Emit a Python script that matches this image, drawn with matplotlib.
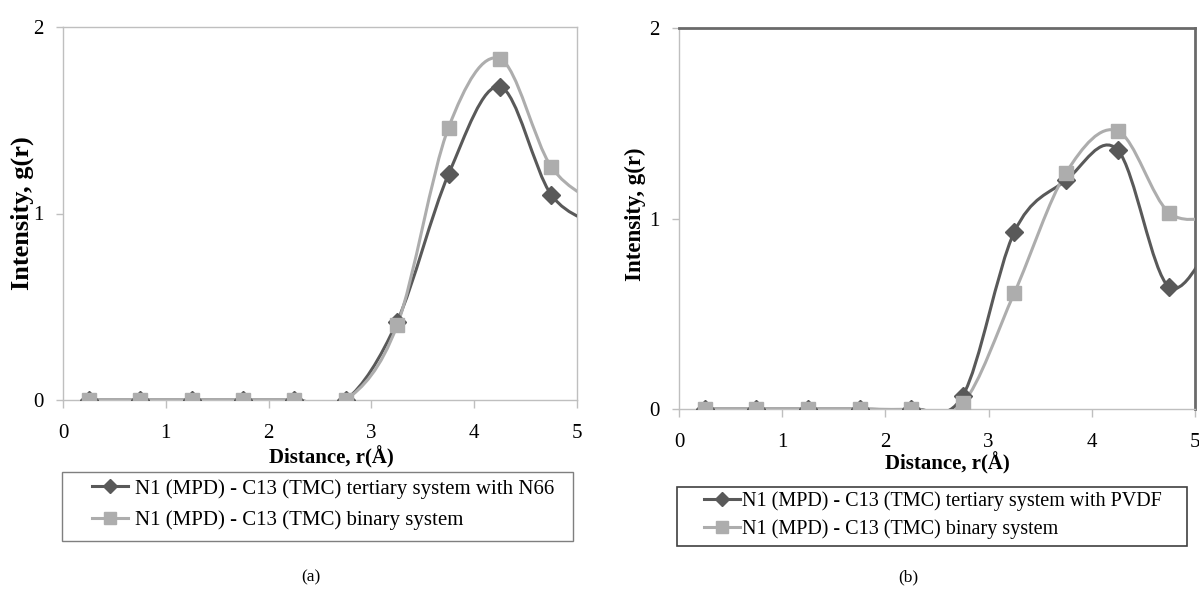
import numpy as np
import matplotlib
matplotlib.use('Agg')
import matplotlib.pyplot as plt
from matplotlib.path import Path
from matplotlib.patches import PathPatch, Rectangle
from matplotlib.lines import Line2D

plt.rcParams['font.family'] = ['Liberation Serif', 'DejaVu Serif']

# distance r (A); last point lies just past the axis edge, as in the source chart
r = [0.25, 0.75, 1.25, 1.75, 2.25, 2.75, 3.25, 3.75, 4.25, 4.75, 5.25]

# (a) N66 tertiary vs binary
g_n66 = [0, 0, 0, 0, 0, 0, 0.42, 1.21, 1.68, 1.10, 0.93]
g_bin_a = [0, 0, 0, 0, 0, 0, 0.40, 1.46, 1.83, 1.25, 1.04]

# (b) PVDF tertiary vs binary
g_pvdf = [0, 0, 0, 0, 0, 0.07, 0.93, 1.20, 1.36, 0.64, 0.97]
g_bin_b = [0, 0, 0, 0, 0, 0.03, 0.61, 1.24, 1.46, 1.03, 1.02]

lab_n66 = 'N1 (MPD) - C13 (TMC) tertiary system with N66'
lab_pvdf = 'N1 (MPD) - C13 (TMC) tertiary system with PVDF'
lab_bin = 'N1 (MPD) - C13 (TMC) binary system'

DARK = '#595959'
LIGHT = '#ADADAD'
AXC = '#BFBFBF'


def smooth_path(xs, ys):
    # excel-like smoothed line: cubic bezier through the points
    pts = np.column_stack([xs, ys]).astype(float)
    n = len(pts)
    verts = [pts[0]]
    codes = [Path.MOVETO]
    for i in range(n - 1):
        p0 = pts[i - 1] if i > 0 else pts[i]
        p1, p2 = pts[i], pts[i + 1]
        p3 = pts[i + 2] if i + 2 < n else pts[i + 1]
        verts += [p1 + (p2 - p0) / 6, p2 - (p3 - p1) / 6, p2]
        codes += [Path.CURVE4] * 3
    return Path(verts, codes)


def draw_series(ax, ys, color, marker, ms):
    ax.add_patch(PathPatch(smooth_path(r, ys), facecolor='none',
                           edgecolor=color, lw=2.2, zorder=3))
    ax.plot(r, ys, ls='none', marker=marker, ms=ms, color=color, zorder=4)


def style_axes(ax, dark_frame):
    ax.set_xlim(0, 5)
    ax.set_ylim(0, 2)
    ax.set_xticks(range(6))
    ax.set_yticks([0, 1, 2])
    for s in ax.spines.values():
        s.set_color(AXC)
        s.set_linewidth(1)
    if dark_frame:
        for s in ('top', 'right'):
            ax.spines[s].set_color('#6a6a6a')
            ax.spines[s].set_linewidth(2)
    ax.tick_params(axis='x', direction='out', length=6, width=1, color=AXC,
                   pad=11, labelsize=15)
    ax.tick_params(axis='y', direction='out', length=5, width=1, color=AXC,
                   pad=9, labelsize=15)


fig = plt.figure(figsize=(11.99, 5.89), dpi=100)
W, H = 1199, 589

ax1 = fig.add_axes([63 / W, 1 - 400 / H, 514 / W, 373 / H])
ax2 = fig.add_axes([679 / W, 1 - 409 / H, 516 / W, 381 / H])

draw_series(ax1, g_n66, DARK, 'D', 9)
draw_series(ax1, g_bin_a, LIGHT, 's', 10)
draw_series(ax2, g_pvdf, DARK, 'D', 9)
draw_series(ax2, g_bin_b, LIGHT, 's', 10)

style_axes(ax1, False)
style_axes(ax2, True)

for ax, xl, yl, ys in [(ax1, (0.523, -0.153), (-0.080, 0.50), 19),
                       (ax2, (0.521, -0.142), (-0.085, 0.51), 16.5)]:
    ax.set_xlabel('Distance, r(Å)', fontsize=15, fontweight='bold', va='center')
    ax.set_ylabel('Intensity, g(r)', fontsize=ys, fontweight='bold', va='center')
    ax.xaxis.set_label_coords(*xl)
    ax.yaxis.set_label_coords(*yl)

# legend boxes
fig.patches.append(Rectangle((62 / W, 1 - 541 / H), 511 / W, 69 / H,
                             transform=fig.transFigure, fill=False,
                             edgecolor='#7f7f7f', lw=1))
fig.patches.append(Rectangle((677 / W, 1 - 546 / H), 510 / W, 59 / H,
                             transform=fig.transFigure, fill=False,
                             edgecolor='#404040', lw=1.2))

h_dark = Line2D([], [], color=DARK, lw=2.2, marker='D', ms=7)
h_light = Line2D([], [], color=LIGHT, lw=2.2, marker='s', ms=8)

fig.legend([h_dark, h_light], [lab_n66, lab_bin], loc='center left',
           bbox_to_anchor=(92 / W, 1 - 504.5 / H), frameon=False,
           borderpad=0, borderaxespad=0, handlelength=1.75, handletextpad=0.3,
           labelspacing=0.55, fontsize=15, numpoints=1)
fig.legend([h_dark, h_light], [lab_pvdf, lab_bin], loc='center left',
           bbox_to_anchor=(704 / W, 1 - 515 / H), frameon=False,
           borderpad=0, borderaxespad=0, handlelength=1.8, handletextpad=0.1,
           labelspacing=0.4, fontsize=14.5, numpoints=1)

fig.text(311 / W, 1 - 577 / H, '(a)', ha='center', va='center', fontsize=12.5)
fig.text(908 / W, 1 - 577 / H, '(b)', ha='center', va='center', fontsize=12.5)

fig.savefig('out.png', dpi=100)
